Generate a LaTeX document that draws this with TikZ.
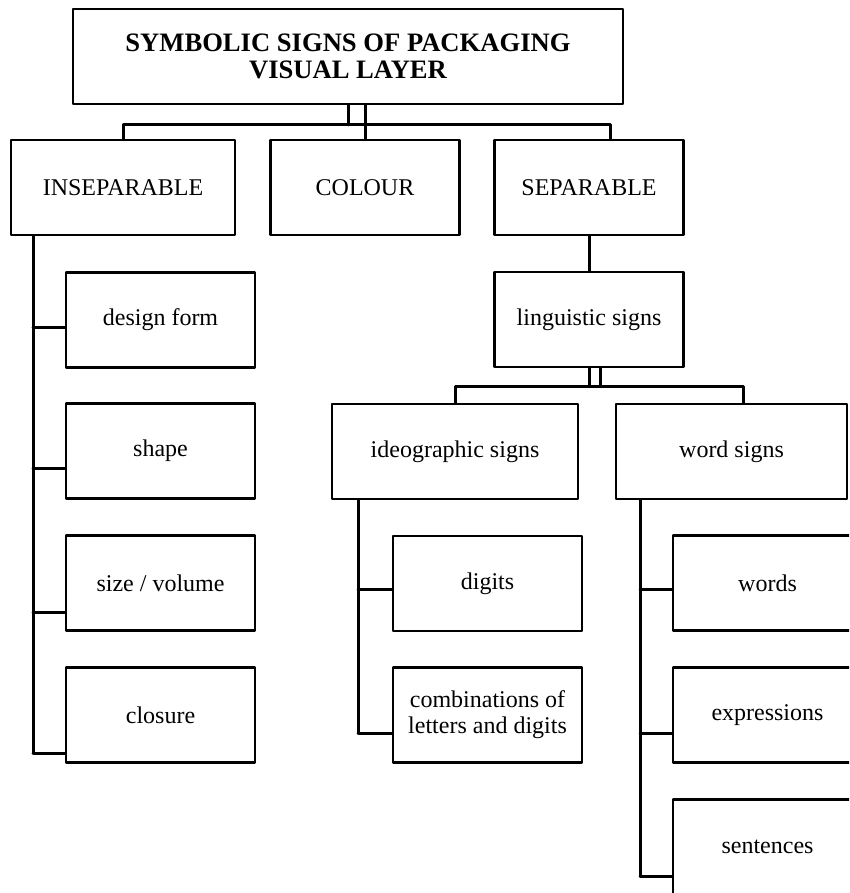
\documentclass[tikz,border=0pt]{standalone}
\usepackage{fontspec}
\setmainfont{Liberation Serif}
\tikzset{
  box/.style={draw,line width=2.2pt,rectangle,inner sep=0pt,minimum height=95pt,minimum width=189pt,align=center,font=\fontsize{24}{26}\selectfont},
  link/.style={line width=3pt}
}
\begin{document}
\begin{tikzpicture}[line cap=round,line join=round,x=1pt,y=-1pt]
\clip(0,0) rectangle (849,893);
\node[box,minimum width=550pt,font=\bfseries\fontsize{26.6}{27}\selectfont] (top) at (348,56.5) {SYMBOLIC SIGNS OF PACKAGING\\VISUAL LAYER};
\node[box,minimum width=224pt] (insep) at (123,187.5) {INSEPARABLE};
\node[box] (colour) at (365,187.5) {COLOUR};
\node[box] (sep) at (589,187.5) {SEPARABLE};
\node[box] (ling) at (589,319.5) {linguistic signs};
\node[box,minimum width=246pt] (ideo) at (455,451.5) {ideographic signs};
\node[box,minimum width=231pt] (word) at (731.5,451.5) {word signs};
% inseparable column
\node[box] (design) at (160.5,320) {design form};
\node[box] (shape) at (160.5,451) {shape};
\node[box] (size) at (160.5,583) {size / volume};
\node[box] (closure) at (160.5,715) {closure};
% ideographic column
\node[box] (digits) at (487.5,583.5) {digits};
\node[box] (combos) at (487.5,715) {combinations of\\letters and digits};
% word column
\node[box] (words) at (767.5,583) {words};
\node[box] (expr) at (767.5,715) {expressions};
\node[box] (sent) at (767.5,847) {sentences};
\coordinate (bar1) at (0,125);
\coordinate (bar2) at (0,386);
\coordinate (sepin) at ([xshift=21pt]sep.north);
\coordinate (wordin) at ([xshift=11.5pt]word.north);
\coordinate (lingout) at ([xshift=11pt]ling.south);
\draw[link] (top.south) -- (top.south |- bar1);
\draw[link] (colour.north) -- (colour.north |- top.south);
\draw[link] (insep.north) |- (sepin |- bar1) -- (sepin);
\draw[link] (sep.south) -- (ling.north);
\draw[link] (ling.south) -- (ling.south |- bar2);
\draw[link] (lingout) -- (lingout |- bar2);
\draw[link] (ideo.north) |- (wordin |- bar2) -- (wordin);
% trunks
\coordinate (insep-t) at ([xshift=-90pt]insep.south);
\coordinate (ideo-t) at ([xshift=-97pt]ideo.south);
\coordinate (word-t) at ([xshift=-91.5pt]word.south);
\foreach \n/\s in {design/7,shape/17,size/29,closure/38}
  \draw[link] ([yshift=-\s pt]\n.west) coordinate (\n-b) -- (\n-b -| insep-t);
\foreach \n/\s in {digits/6,combos/18}
  \draw[link] ([yshift=-\s pt]\n.west) coordinate (\n-b) -- (\n-b -| ideo-t);
\foreach \n/\s in {words/6,expr/18,sent/29}
  \draw[link] ([yshift=-\s pt]\n.west) coordinate (\n-b) -- (\n-b -| word-t);
\draw[link] (insep-t) -- (insep-t |- closure-b);
\draw[link] (ideo-t) -- (ideo-t |- combos-b);
\draw[link] (word-t) -- (word-t |- sent-b);
\end{tikzpicture}
\end{document}
